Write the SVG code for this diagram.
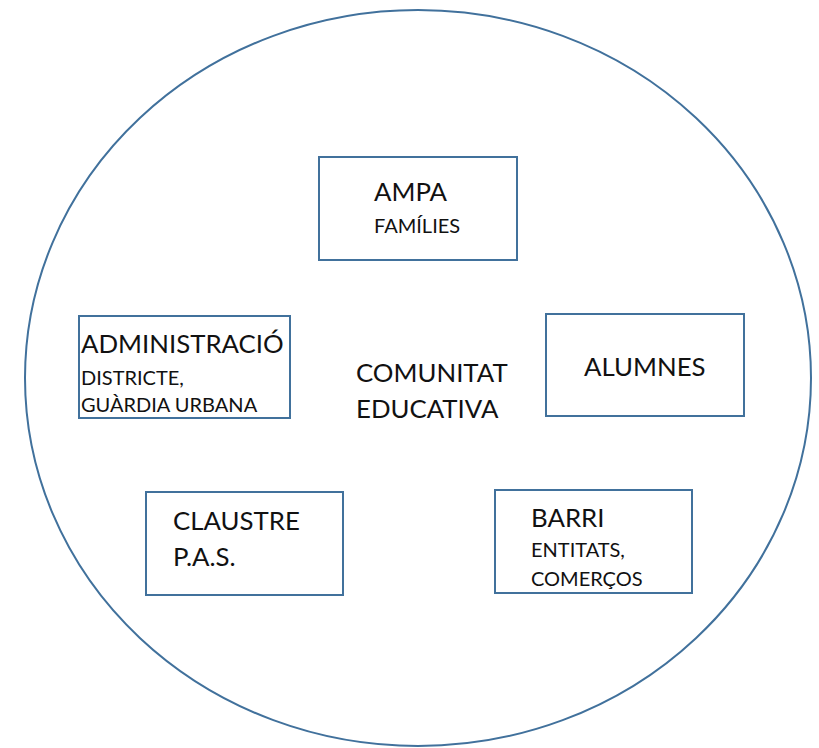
<svg xmlns="http://www.w3.org/2000/svg" width="819" height="748" viewBox="0 0 819 748">
<style>
.b{fill:#fff;stroke:#41719c;stroke-width:2}
.t{font-family:Lato,"Open Sans",sans-serif;fill:#111}
.l{font-size:25.8px}
.s{font-size:20px}
</style>
<rect width="819" height="748" fill="#fff"/>
<g id="circle"><ellipse cx="418" cy="378" rx="393" ry="368" fill="none" stroke="#41719c" stroke-width="2"/></g>
<g id="connectors"></g>
<g id="ampa"><rect class="b" x="319" y="157" width="198" height="103"/><text class="t l" x="374" y="201">AMPA</text><text class="t s" x="374" y="233">FAMÍLIES</text></g>
<g id="admin"><rect class="b" x="79" y="316" width="211" height="102"/><text class="t l" x="81" y="353">ADMINISTRACIÓ</text><text class="t s" x="81" y="385">DISTRICTE,</text><text class="t s" x="81" y="412">GUÀRDIA URBANA</text></g>
<g id="comunitat"><text class="t l" x="356" y="382">COMUNITAT</text><text class="t l" x="356" y="418">EDUCATIVA</text></g>
<g id="alumnes"><rect class="b" x="546" y="314" width="198" height="102"/><text class="t l" x="584" y="376">ALUMNES</text></g>
<g id="claustre"><rect class="b" x="146" y="492" width="197" height="103"/><text class="t l" x="173" y="530">CLAUSTRE</text><text class="t l" x="173" y="566">P.A.S.</text></g>
<g id="barri"><rect class="b" x="495" y="490" width="197" height="103"/><text class="t l" x="531" y="527">BARRI</text><text class="t s" x="531" y="557">ENTITATS,</text><text class="t s" x="531" y="586">COMERÇOS</text></g>
</svg>
